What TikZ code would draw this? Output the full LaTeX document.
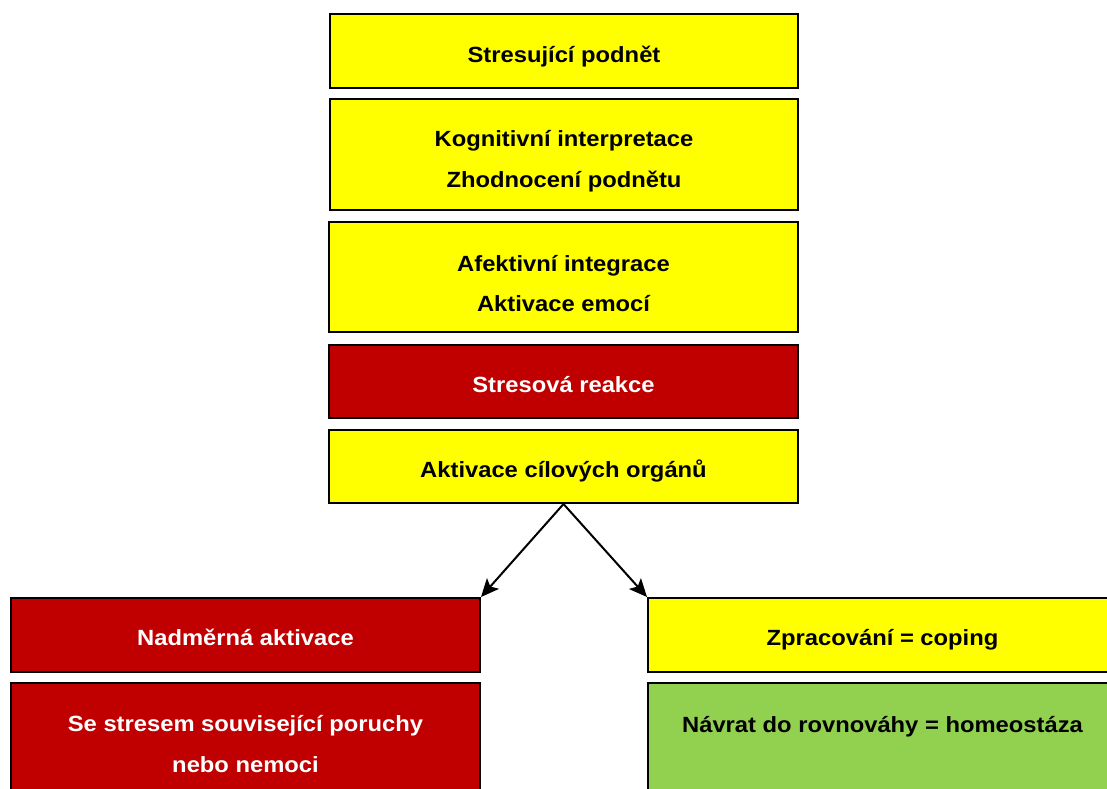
\documentclass[tikz,border=0pt]{standalone}
\usepackage{fontspec}
\setmainfont[FakeStretch=1.08]{Liberation Sans}
\usetikzlibrary{arrows.meta}
\definecolor{boxyellow}{HTML}{FFFF00}
\definecolor{boxred}{HTML}{C00000}
\definecolor{boxgreen}{HTML}{92D050}
\tikzset{
  box/.style={draw=black, line width=2pt, inner sep=0pt},
  ybox/.style={box, fill=boxyellow},
  rbox/.style={box, fill=boxred},
  gbox/.style={box, fill=boxgreen},
  txt/.style={anchor=base, inner sep=0pt, font=\bfseries\fontsize{22}{26}\selectfont},
  dtxt/.style={txt, text=black},
  wtxt/.style={txt, text=white},
  arr/.style={line width=2pt, -{Stealth[length=18pt,width=16pt,inset=4pt]}}
}
\begin{document}
\begin{tikzpicture}[x=1pt,y=-1pt]
\useasboundingbox[fill=white] (0,0) rectangle (1107,788);
\clip (0,0) rectangle (1107,788);
% boxes
\node[ybox, minimum width=468pt, minimum height=74pt] (b1) at (564,51) {};
\node[ybox, minimum width=468pt, minimum height=111pt] (b2) at (564,154.5) {};
\node[ybox, minimum width=469pt, minimum height=110pt] (b3) at (563.5,277) {};
\node[rbox, minimum width=469pt, minimum height=73pt] (b4) at (563.5,381.5) {};
\node[ybox, minimum width=469pt, minimum height=73pt] (b5) at (563.5,466.5) {};
\node[rbox, minimum width=469pt, minimum height=74pt] (l1) at (245.5,635) {};
\node[rbox, minimum width=469pt, minimum height=111pt] (l2) at (245.5,738.5) {};
\node[ybox, minimum width=469pt, minimum height=74pt] (r1) at (882.5,635) {};
\node[gbox, minimum width=469pt, minimum height=111pt] (r2) at (882.5,738.5) {};
% texts
\node[dtxt] (t1) at (564,62) {Stresující podnět};
\node[dtxt] (t2a) at (564,146.5) {Kognitivní interpretace};
\node[dtxt] (t2b) at (564,187.5) {Zhodnocení podnětu};
\node[dtxt] (t3a) at (563.5,271) {Afektivní integrace};
\node[dtxt] (t3b) at (563.5,311.5) {Aktivace emocí};
\node[wtxt] (t4) at (563.5,392) {Stresová reakce};
\node[dtxt] (t5) at (563.5,477) {Aktivace cílových orgánů};
\node[wtxt] (tl1) at (245.5,645.5) {Nadměrná aktivace};
\node[wtxt] (tl2a) at (245.5,731.5) {Se stresem související poruchy};
\node[wtxt] (tl2b) at (245.5,772.5) {nebo nemoci};
\node[dtxt] (tr1) at (882.5,645.5) {Zpracování = coping};
\node[dtxt] (tr2) at (882.5,732) {Návrat do rovnováhy = homeostáza};
% connectors
\draw[arr] (b5.south) -- (l1.north east);
\draw[arr] (b5.south) -- (r1.north west);
\end{tikzpicture}
\end{document}
